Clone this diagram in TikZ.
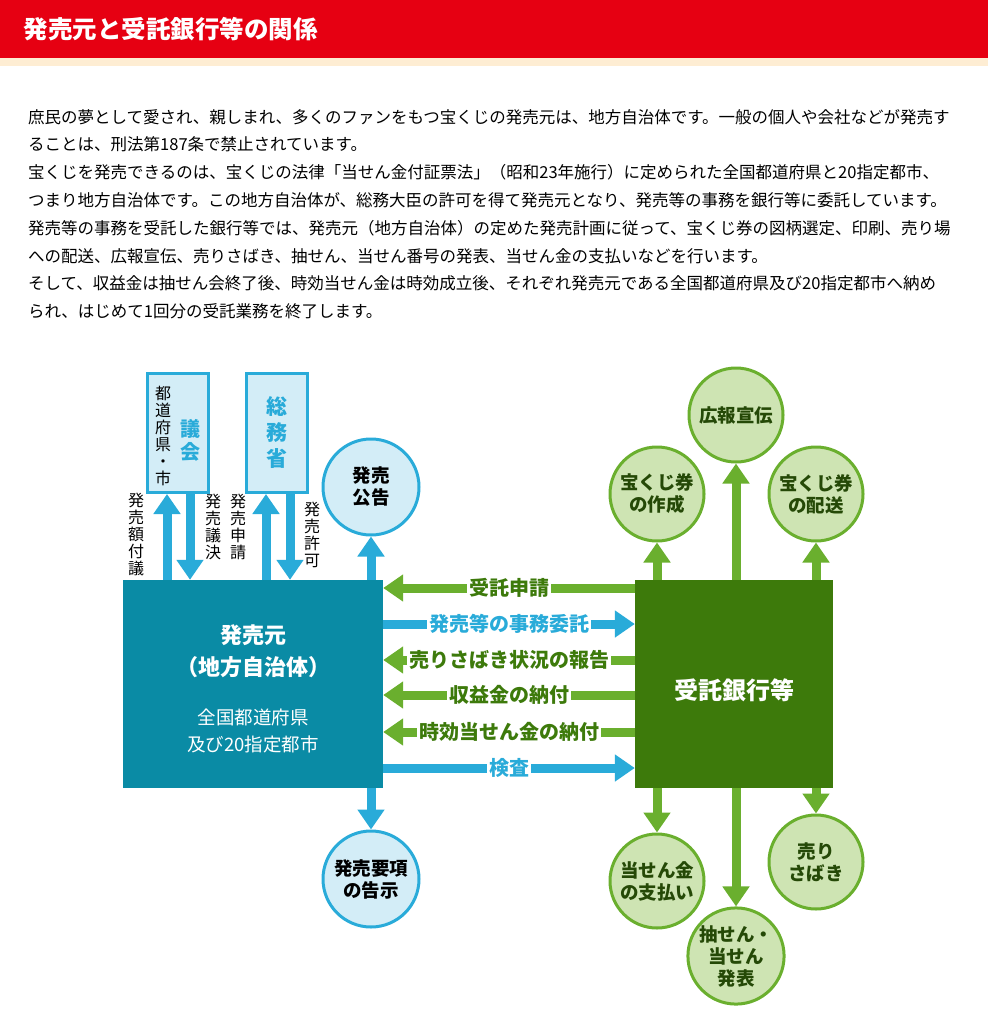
\documentclass[tikz,border=0pt]{standalone}
\usepackage{fontspec}
\setmainfont{Noto Sans CJK JP}
\usetikzlibrary{arrows.meta}
\definecolor{hdred}{HTML}{E60012}
\definecolor{teal}{HTML}{0A8BA5}
\definecolor{sky}{HTML}{29ABD9}
\definecolor{skyfill}{HTML}{D3EDF7}
\definecolor{gdark}{HTML}{3D7A0B}
\definecolor{gmid}{HTML}{6AAF2E}
\definecolor{gfill}{HTML}{CEE4B3}
\tikzset{
  para/.style = {anchor = west, font = \fontsize{16.5}{18}\selectfont, inner sep = 0},
  bcirc/.style = {circle, draw = sky, line width = 3, fill = skyfill, minimum size = 96, inner sep = 0, align = center, font = \fontsize{18.5}{22}\selectfont\bfseries},
  gcirc/.style = {circle, draw = gmid, line width = 3, fill = gfill, minimum size = 94, inner sep = 0, align = center, font = \fontsize{18.5}{22}\selectfont\bfseries, text = gdark!60!black},
  brect/.style = {draw = sky, line width = 3, fill = skyfill, minimum width = 61, minimum height = 119},
  vlab/.style = {align = center, font = \fontsize{16}{17}\selectfont, inner sep = 0},
  barrow/.style = {sky, line width = 9, -{Triangle[width = 26, length = 20]}},
  garrow/.style = {gmid, line width = 9, -{Triangle[width = 26, length = 20]}},
  blab/.style = {fill = white, text = sky, inner sep = 2, font = \fontsize{20}{22}\selectfont\bfseries},
  glab/.style = {fill = white, text = gdark, inner sep = 2, font = \fontsize{20}{22}\selectfont\bfseries},
}
\begin{document}
\begin{tikzpicture}[x = 1pt, y = -1pt]
		\useasboundingbox (0, 0) rectangle (988, 1024);
		%%%%%%%%%%%%%
		\fill[hdred] (0, 0) rectangle (988, 58);
		\fill[yellow!15!orange!15] (0, 58) rectangle (988, 66);
		\node[anchor = west, text = white, font = \fontsize{24.5}{27}\selectfont\bfseries] (title) at (20, 29) {発売元と受託銀行等の関係};
		%%%%%%%%%%%%%
		\node[para] (p1) at (28, 117) {庶民の夢として愛され、親しまれ、多くのファンをもつ宝くじの発売元は、地方自治体です。一般の個人や会社などが発売す};
		\node[para] (p2) at (28, 144) {ることは、刑法第187条で禁止されています。};
		\node[para] (p3) at (28, 172) {宝くじを発売できるのは、宝くじの法律「当せん金付証票法」（昭和23年施行）に定められた全国都道府県と20指定都市、};
		\node[para] (p4) at (28, 200) {つまり地方自治体です。この地方自治体が、総務大臣の許可を得て発売元となり、発売等の事務を銀行等に委託しています。};
		\node[para] (p5) at (28, 228) {発売等の事務を受託した銀行等では、発売元（地方自治体）の定めた発売計画に従って、宝くじ券の図柄選定、印刷、売り場};
		\node[para] (p6) at (28, 256) {への配送、広報宣伝、売りさばき、抽せん、当せん番号の発表、当せん金の支払いなどを行います。};
		\node[para] (p7) at (28, 283) {そして、収益金は抽せん会終了後、時効当せん金は時効成立後、それぞれ発売元である全国都道府県及び20指定都市へ納め};
		\node[para] (p8) at (28, 311) {られ、はじめて1回分の受託業務を終了します。};
		%%%%%%%%%%%%%
		\node[fill = teal, minimum width = 260, minimum height = 208, text = white] (moto) at (253, 684) {};
		\node[text = white, align = center, font = \fontsize{22}{32}\selectfont\bfseries] (motoT) at (253, 651) {発売元\\（地方自治体）};
		\node[text = white, align = center, font = \fontsize{18.5}{27}\selectfont] (motoS) at (253, 731) {全国都道府県\\及び20指定都市};
		\node[fill = gdark, minimum width = 198, minimum height = 208] (gin) at (734, 684) {};
		\node[text = white, font = \fontsize{24}{26}\selectfont\bfseries] (ginT) at (734, 690) {受託銀行等};
		%%%%%%%%%%%%%
		\node[brect] (gikai) at (178, 433) {};
		\node[vlab] (gikaiS) at (163, 436) {都\\道\\府\\県\\・\\市};
		\node[vlab, text = sky, font = \fontsize{20}{23}\selectfont\bfseries] (gikaiT) at (190, 440) {議\\会};
		\node[brect] (somu) at (277, 433) {};
		\node[vlab, text = sky, font = \fontsize{21}{26}\selectfont\bfseries] (somuT) at (277, 433) {総\\務\\省};
		\node[bcirc] (koukoku) at (371, 487) {発売\\公告};
		\node[bcirc] (kokuji) at (371, 879) {発売要項\\の告示};
		%%%%%%%%%%%%%
		\draw[barrow] (moto.north -| 167, 0) -- (gikai.south -| 167, 0);
		\draw[barrow] (gikai.south -| 190, 0) -- (moto.north -| 190, 0);
		\draw[barrow] (moto.north -| 266, 0) -- (somu.south -| 266, 0);
		\draw[barrow] (somu.south -| 290, 0) -- (moto.north -| 290, 0);
		\draw[barrow] (moto.north -| koukoku) -- (koukoku);
		\draw[barrow] (moto.south -| kokuji) -- (kokuji.north);
		\node[vlab] (l1) at (136, 535) {発\\売\\額\\付\\議};
		\node[vlab] (l2) at (213, 527) {発\\売\\議\\決};
		\node[vlab] (l3) at (238, 527) {発\\売\\申\\請};
		\node[vlab] (l4) at (312, 535) {発\\売\\許\\可};
		%%%%%%%%%%%%%
		\draw[garrow] (gin.west |- 0, 588) -- (moto.east |- 0, 588) node[midway, glab] {受託申請};
		\draw[barrow] (moto.east |- 0, 624) -- (gin.west |- 0, 624) node[midway, blab] {発売等の事務委託};
		\draw[garrow] (gin.west |- 0, 660) -- (moto.east |- 0, 660) node[midway, glab] {売りさばき状況の報告};
		\draw[garrow] (gin.west |- 0, 695) -- (moto.east |- 0, 695) node[midway, glab] {収益金の納付};
		\draw[garrow] (gin.west |- 0, 732) -- (moto.east |- 0, 732) node[midway, glab] {時効当せん金の納付};
		\draw[barrow] (moto.east |- 0, 768) -- (gin.west |- 0, 768) node[midway, blab] {検査};
		%%%%%%%%%%%%%
		\node[gcirc] (kouhou) at (736, 415) {広報宣伝};
		\node[gcirc] (sakusei) at (657, 494) {宝くじ券\\の作成};
		\node[gcirc] (haisou) at (816, 494) {宝くじ券\\の配送};
		\node[gcirc] (shiharai) at (657, 881) {当せん金\\の支払い};
		\node[gcirc] (chusen) at (736, 956) {抽せん・\\当せん\\発表};
		\node[gcirc] (urisabaki) at (816, 862) {売り\\さばき};
		\draw[garrow] (gin.north -| sakusei) -- (sakusei);
		\draw[garrow] (gin.north -| kouhou) -- (kouhou);
		\draw[garrow] (gin.north -| haisou) -- (haisou);
		\draw[garrow] (gin.south -| shiharai) -- (shiharai.north);
		\draw[garrow] (gin.south -| chusen) -- (chusen.north);
		\draw[garrow] (gin.south -| urisabaki) -- (urisabaki.north);
		%%%%%%%%%%%%%%
\end{tikzpicture}
\end{document}
